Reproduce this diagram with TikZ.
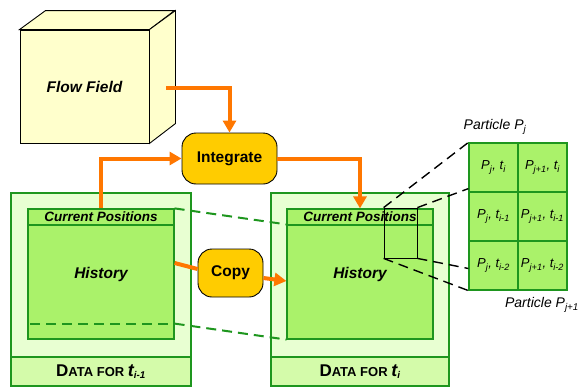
\documentclass[tikz,border=0pt]{standalone}
\usepackage{fontspec}
\setmainfont{Liberation Sans}
\usetikzlibrary{arrows.meta}
\definecolor{cubeY}{HTML}{FFFFCC}
\definecolor{outerG}{HTML}{E8FFD2}
\definecolor{bandG}{HTML}{D4FBAA}
\definecolor{innerG}{HTML}{AAF26A}
\definecolor{lineG}{HTML}{1E961E}
\definecolor{orng}{HTML}{FF7700}
\definecolor{procY}{HTML}{FFCC00}
\newcommand{\sbx}[1]{\textsubscript{#1}}
\tikzset{
  cubeface/.style={draw=black, line width=0.9pt, fill=cubeY},
  outerbox/.style={draw=lineG, line width=1.2pt, fill=outerG, minimum width=#1, minimum height=193pt, inner sep=0pt},
  bandbox/.style={draw=lineG, line width=1.2pt, fill=bandG, minimum width=#1, minimum height=29pt, inner sep=0pt, font=\bfseries},
  innerbox/.style={draw=lineG, line width=1.2pt, fill=innerG, minimum width=146pt, minimum height=130pt, inner sep=0pt},
  cpband/.style={draw=lineG, line width=1.2pt, fill=innerG, minimum width=146pt, minimum height=16pt, inner sep=0pt, font=\fontsize{13.5}{14}\selectfont\bfseries\itshape},
  histtext/.style={font=\fontsize{15.5}{17}\selectfont\bfseries\itshape},
  procbox/.style={draw=black, line width=0.9pt, fill=procY, rounded corners=14pt, inner sep=0pt, font=\fontsize{15.5}{17}\selectfont\bfseries},
  oline/.style={draw=orng, line width=4pt},
  oarrow/.style={oline, -{Triangle[length=12pt,width=13pt]}},
  gdash/.style={draw=lineG, line width=2pt, dash pattern=on 10pt off 6pt},
  kdash/.style={draw=black, line width=1.4pt, dash pattern=on 10pt off 6pt},
  cell/.style={draw=lineG, line width=1.2pt, fill=innerG, minimum width=49pt, minimum height=49pt, inner sep=0pt, font=\fontsize{13}{14}\selectfont\itshape},
  plabel/.style={font=\fontsize{14}{15}\selectfont\itshape, inner sep=0pt}
}
\newcommand{\datafor}[1]{{\fontsize{17}{17}\selectfont D}{\fontsize{13}{13}\selectfont ATA FOR }{\fontsize{18}{18}\selectfont\itshape t}{\fontsize{14}{14}\selectfont\textsubscript{\itshape #1}}}
\begin{document}
\begin{tikzpicture}[x=1pt,y=-1pt]
\useasboundingbox (0,0) rectangle (578,388);
% Flow field cube
\node[cubeface, minimum width=129pt, minimum height=113pt, inner sep=0pt, font=\fontsize{15.5}{17}\selectfont\bfseries\itshape] (ff) at (84.5,86.5) {Flow Field};
\draw[cubeface] (ff.north west) -- ++(26,-19) -- ++(129,0) -- (ff.north east) -- cycle;
\draw[cubeface] (ff.north east) -- ++(26,-19) -- ++(0,113) -- (ff.south east) -- cycle;
% left data block
\node[outerbox=180pt] (outL) at (101,289.5) {};
\node[bandbox=180pt] (bandL) at (101,371.5) {\datafor{i-1}};
\node[innerbox] (inL) at (101,274) {};
\node[cpband] (cpL) at (101,217) {Current Positions};
\node[histtext] (hL) at (101,274) {History};
% right data block
\node[outerbox=178pt] (outR) at (360,289.5) {};
\node[bandbox=178pt] (bandR) at (360,371.5) {\datafor{i}};
\node[innerbox] (inR) at (360,274) {};
\node[cpband] (cpR) at (360,217) {Current Positions};
\node[histtext] (hR) at (360,274) {History};
% dashed line inside left history
\draw[gdash] ([xshift=3pt,yshift=16pt]inL.south west) -- ([yshift=16pt]inL.south east);
% green dashed between blocks
\draw[gdash] (inL.north east) -- ([yshift=-16pt]inR.north west);
\draw[gdash] ([yshift=16pt]inL.south east) -- (inR.south west);
% process boxes
\node[procbox, minimum width=95pt, minimum height=51pt] (int) at (229.5,158.5) {Integrate};
\node[procbox, minimum width=65pt, minimum height=48pt] (copy) at (230.5,273) {Copy};
% orange connectors
\draw[oarrow] ([xshift=17pt,yshift=-1.5pt]ff.east) -| (int.north);
\draw[oarrow] (inL.north) |- (int.west);
\draw[oarrow] (int.east) -| (inR.north);
\draw[oline] ([yshift=11pt]inL.east) -- ([yshift=4pt]copy.west);
\draw[oarrow] ([yshift=-5pt]copy.east) -- ([yshift=-7pt]inR.west);
% selection rectangle
\node[draw=black, line width=0.8pt, minimum width=33pt, minimum height=50pt, inner sep=0pt] (sel) at (400.5,233) {};
% particle grid
\node[cell] (c11) at (493.5,167.5) {P\sbx{j}, t\sbx{i}};
\node[cell] (c12) at (542.5,167.5) {P\sbx{j+1}, t\sbx{i}};
\node[cell] (c21) at (493.5,216.5) {P\sbx{j}, t\sbx{i-1}};
\node[cell] (c22) at (542.5,216.5) {P\sbx{j+1}, t\sbx{i-1}};
\node[cell] (c31) at (493.5,265.5) {P\sbx{j}, t\sbx{i-2}};
\node[cell] (c32) at (542.5,265.5) {P\sbx{j+1}, t\sbx{i-2}};
% black dashed zoom lines
\draw[kdash] (sel.north west) -- (c11.north west);
\draw[kdash] (sel.north east) -- ([yshift=4pt]c11.south west);
\draw[kdash] (sel.south east) -- ([yshift=-3pt]c31.west);
\draw[kdash] (sel.south west) -- (c31.south west);
% particle labels
\node[plabel] (pj) at (495,127) {Particle P\sbx{j}};
\node[plabel] (pj1) at (542,305) {Particle P\sbx{j+1}};
\end{tikzpicture}
\end{document}
